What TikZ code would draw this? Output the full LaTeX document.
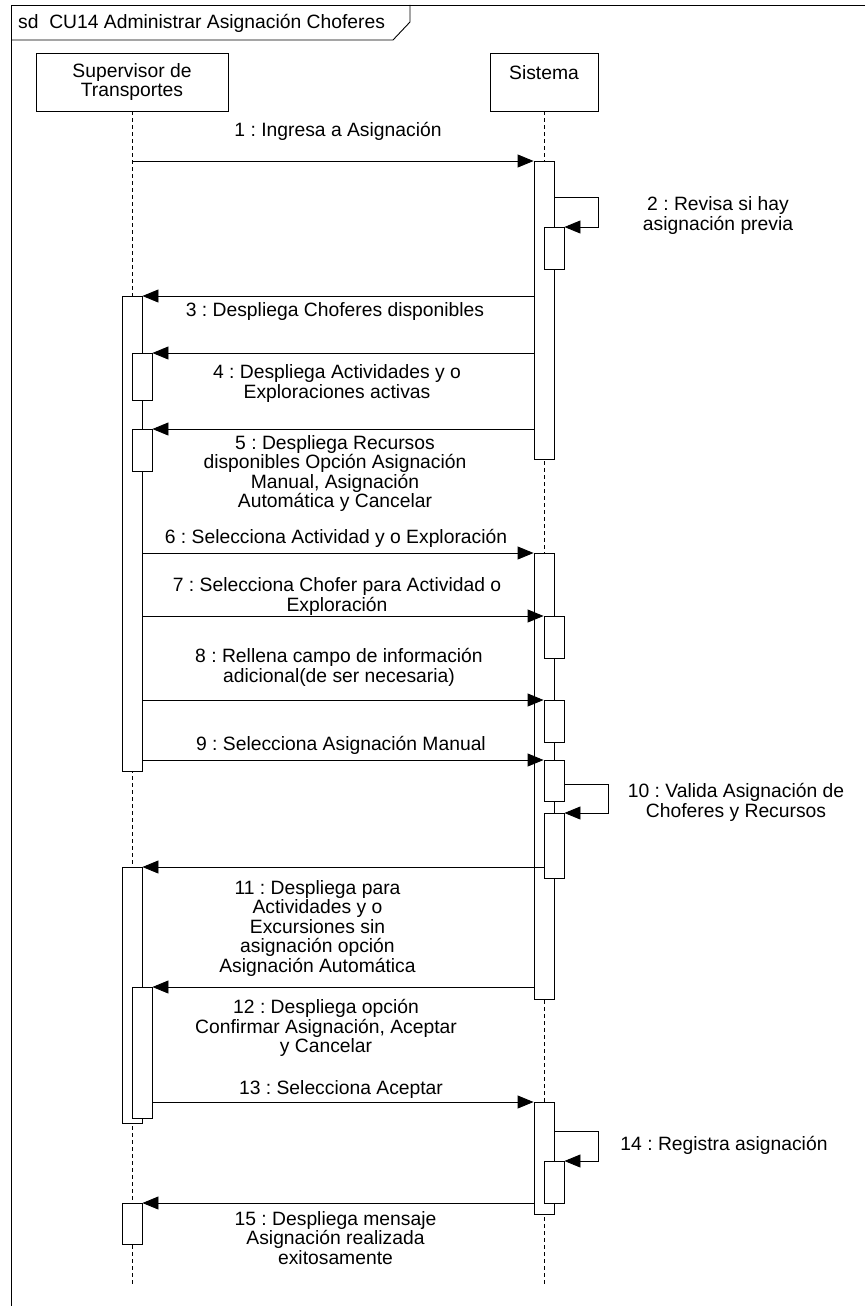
\documentclass[tikz,border=0pt]{standalone}
\usepackage{fontspec}
\setmainfont{Liberation Sans}
\usetikzlibrary{arrows.meta}
\frenchspacing
\tikzset{
  lbl/.style={font=\fontsize{19.3}{19.5}\selectfont, align=center, inner sep=0pt},
  headbox/.style={draw, line width=0.9pt, inner sep=0pt, minimum height=58pt, font=\fontsize{19.3}{19.5}\selectfont, align=center},
  bar/.style={draw, fill=white, line width=0.9pt, minimum width=20pt, inner sep=0pt, anchor=north},
  msg/.style={line width=0.9pt, -{Triangle[length=16pt,width=13pt]}},
  life/.style={dash pattern=on 4pt off 3pt, line width=0.9pt},
  frameline/.style={line width=0.9pt}
}
\begin{document}
\begin{tikzpicture}[x=1pt,y=-1pt]
\useasboundingbox (0,0) rectangle (865,1306);
% frame
\draw[frameline] (865,5) -- (11,5) -- (11,1306);
\draw[frameline] (11,40) -- (393,40) -- (410,22) -- (410,5);
\node[lbl, anchor=west] (title) at (18,23) {sd\ \ CU14 Administrar Asignación Choferes};
% heads
\node[headbox, minimum width=192pt] (SupH) at (132,82) {Supervisor de\\Transportes};
\node[headbox, minimum width=108pt] (SisH) at (544,82) {Sistema\\\mbox{}};
\coordinate (SupEnd) at (132,1285);
\coordinate (SisEnd) at (544,1285);
\draw[life] (SupH.south) -- (SupEnd);
\draw[life] (SisH.south) -- (SisEnd);
% activation bars: supervisor
\node[bar, minimum height=475pt] (A1) at (132,296) {};
\node[bar, minimum height=47pt] (A1a) at (142,353) {};
\node[bar, minimum height=42pt] (A1b) at (142,429) {};
\node[bar, minimum height=256pt] (A2) at (132,867) {};
\node[bar, minimum height=131pt] (A2a) at (142,987) {};
\node[bar, minimum height=41pt] (A3) at (132,1203) {};
% activation bars: sistema
\node[bar, minimum height=298pt] (S1) at (544,161) {};
\node[bar, minimum height=42pt] (S1a) at (554,227) {};
\node[bar, minimum height=446pt] (S2) at (544,553) {};
\node[bar, minimum height=42pt] (S2a) at (554,616) {};
\node[bar, minimum height=42pt] (S2b) at (554,700) {};
\node[bar, minimum height=41pt] (S2c) at (554,760) {};
\node[bar, minimum height=65pt] (S2d) at (554,813) {};
\node[bar, minimum height=112pt] (S3) at (544,1102) {};
\node[bar, minimum height=42pt] (S3a) at (554,1161) {};
% messages
\draw[msg] (SupH.south |- S1.north) -- (S1.north west);
\draw[msg] (S1.east |- 0,197) -- ++(44,0) |- (S1a.north east);
\draw[msg] (S1.west |- A1.north) -- (A1.north east);
\draw[msg] (S1.west |- A1a.north) -- (A1a.north east);
\draw[msg] (S1.west |- A1b.north) -- (A1b.north east);
\draw[msg] (A1.east |- S2.north) -- (S2.north west);
\draw[msg] (A1.east |- S2a.north) -- (S2a.north west);
\draw[msg] (A1.east |- S2b.north) -- (S2b.north west);
\draw[msg] (A1.east |- S2c.north) -- (S2c.north west);
\draw[msg] (S2c.east |- 0,784) -- ++(44,0) |- (S2d.north east);
\draw[msg] (S2d.west |- A2.north) -- (A2.north east);
\draw[msg] (S2.west |- A2a.north) -- (A2a.north east);
\draw[msg] (A2a.east |- S3.north) -- (S3.north west);
\draw[msg] (S3.east |- 0,1131) -- ++(44,0) |- (S3a.north east);
\draw[msg] (S3.west |- A3.north) -- (A3.north east);
% labels
\node[lbl] (L1) at (338,131) {1 : Ingresa a Asignación};
\node[lbl] (L2) at (718,215.5) {2 : Revisa si hay\\asignación previa};
\node[lbl] (L3) at (335,312) {3 : Despliega Choferes disponibles};
\node[lbl] (L4) at (337,383.3) {4 : Despliega Actividades y o\\Exploraciones activas};
\node[lbl] (L5) at (335,473.4) {5 : Despliega Recursos\\disponibles Opción Asignación\\Manual, Asignación\\Automática y Cancelar};
\node[lbl] (L6) at (336,538) {6 : Selecciona Actividad y o Exploración};
\node[lbl] (L7) at (337,596.3) {7 : Selecciona Chofer para Actividad o\\Exploración};
\node[lbl] (L8) at (339,667.3) {8 : Rellena campo de información\\adicional(de ser necesaria)};
\node[lbl] (L9) at (341,745.7) {9 : Selecciona Asignación Manual};
\node[lbl] (L10) at (736,802.3) {10 : Valida Asignación de\\Choferes y Recursos};
\node[lbl] (L11) at (317.5,928) {11 : Despliega para\\Actividades y o\\Excursiones sin\\asignación opción\\Asignación Automática};
\node[lbl] (L12) at (326,1028) {12 : Despliega opción\\Confirmar Asignación, Aceptar\\y Cancelar};
\node[lbl] (L13) at (341,1089) {13 : Selecciona Aceptar};
\node[lbl] (L14) at (724,1145.7) {14 : Registra asignación};
\node[lbl] (L15) at (335.5,1238) {15 : Despliega mensaje\\Asignación realizada\\exitosamente};
\end{tikzpicture}
\end{document}
